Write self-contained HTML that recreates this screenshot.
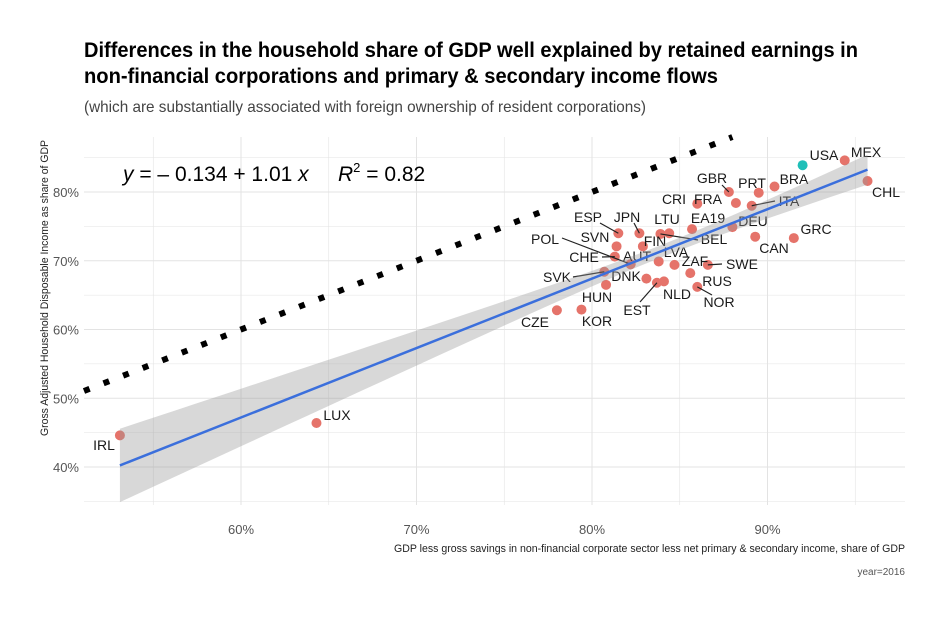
<!DOCTYPE html>
<html><head><meta charset="utf-8">
<style>
body{margin:0;background:#fff;width:946px;height:617px;overflow:hidden;}
svg{display:block;font-family:"Liberation Sans",sans-serif;}
</style></head><body>
<svg id="chart" width="946" height="617" viewBox="0 0 946 617">
<text x="84" y="57" font-size="21" font-weight="bold" fill="#000" textLength="774" lengthAdjust="spacingAndGlyphs">Differences in the household share of GDP well explained by retained earnings in</text>
<text x="84" y="83" font-size="21" font-weight="bold" fill="#000" textLength="634" lengthAdjust="spacingAndGlyphs">non-financial corporations and primary &amp; secondary income flows</text>
<text x="84" y="112" font-size="16" fill="#444" textLength="562" lengthAdjust="spacingAndGlyphs">(which are substantially associated with foreign ownership of resident corporations)</text>
<g id="grid"></g>
<g id="marks"></g>
<text x="123" y="181" font-size="21" fill="#000"><tspan font-style="italic">y</tspan> = – 0.134 + 1.01 <tspan font-style="italic">x</tspan><tspan x="338" font-style="italic">R</tspan><tspan font-size="13" dy="-9">2</tspan><tspan dy="9"> = 0.82</tspan></text>
<text transform="translate(48,288) rotate(-90)" text-anchor="middle" font-size="11" fill="#222" textLength="296" lengthAdjust="spacingAndGlyphs">Gross Adjusted Household Disposable Income as share of GDP</text>
<text x="905" y="552" text-anchor="end" font-size="11" fill="#222" textLength="511" lengthAdjust="spacingAndGlyphs">GDP less gross savings in non-financial corporate sector less net primary &amp; secondary income, share of GDP</text>
<text x="905" y="575" text-anchor="end" font-size="10" fill="#555">year=2016</text>
</svg>
<script>
const codes=["USA","MEX","CHL","BRA","PRT","GBR","FRA","ITA","CRI","EA19","DEU","CAN","GRC","LTU","ESP","JPN","SVN","FIN","BEL","POL","CHE","AUT","LVA","ZAF","SWE","SVK","DNK","RUS","NLD","NOR","HUN","EST","CZE","KOR","IRL","LUX"];
const xVals=[92.0,94.4,95.7,90.4,89.5,87.8,88.2,89.1,86.0,85.7,88.0,89.3,91.5,84.4,81.5,82.7,81.4,82.9,83.9,82.2,81.3,82.2,83.8,84.7,86.6,80.7,83.1,85.6,84.1,86.0,80.8,83.7,78.0,79.4,53.1,64.3];
const yVals=[83.9,84.6,81.6,80.8,79.9,80.0,78.4,78.0,78.3,74.6,74.9,73.5,73.3,74.0,74.0,74.0,72.1,72.1,73.9,69.5,70.6,69.5,69.9,69.4,69.4,68.4,67.4,68.2,67.0,66.2,66.5,66.8,62.8,62.9,44.6,46.4];
const xTicks=[60,70,80,90];
const xTickLabels=["60%","70%","80%","90%"];
const yTicks=[40,50,60,70,80];
const yTickLabels=["40%","50%","60%","70%","80%"];
const fitIntercept=-13.4, fitSlope=1.01;
// label placement (pixel layout, not data)
const labelPos={USA:[824,160],MEX:[866,157],CHL:[886,197],BRA:[794,184],PRT:[752,188],GBR:[712,183],FRA:[708,204],ITA:[789,206],CRI:[674,204],EA19:[708,223],DEU:[753,226],CAN:[774,253],GRC:[816,234],LTU:[667,224],ESP:[588,222],JPN:[627,222],SVN:[595,242],FIN:[655,246],BEL:[714,244],POL:[545,244],CHE:[584,262],AUT:[637,261],LVA:[676,257],ZAF:[695,266],SWE:[742,269],SVK:[557,282],DNK:[626,281],RUS:[717,286],NLD:[677,299],NOR:[719,307],HUN:[597,302],EST:[637,315],CZE:[535,327],KOR:[597,326],IRL:[104,450],LUX:[337,420]};
const leaders={GBR:[722,185],ESP:[600,223],JPN:[634,223],POL:[562,238],CHE:[602,257],SVK:[573,277],EST:[640,302],NOR:[712,295],SWE:[722,264],ITA:[775,201],BEL:[698,240]};

const PL=84,PR=905,PT=137,PB=505;
const sx=v=>241+(v-60)*17.55;
const sy=v=>192-(v-80)*6.875;
const X0=60+(PL-241)/17.55;
const NS="http://www.w3.org/2000/svg";
const gridG=document.getElementById('grid'), marksG=document.getElementById('marks');
function mk(tag,attrs,parent){const e=document.createElementNS(NS,tag);for(const k in attrs)e.setAttribute(k,attrs[k]);parent.appendChild(e);return e;}

for(let v=55;v<=95;v+=5){const l=mk('line',{x1:sx(v),x2:sx(v),y1:PT,y2:PB,stroke:'#e3e3e3','stroke-width':v%10===0?1:0.6},gridG);

}
for(let v=35;v<=85;v+=5){const l=mk('line',{x1:PL,x2:PR,y1:sy(v),y2:sy(v),stroke:'#e3e3e3','stroke-width':v%10===0?1:0.6},gridG);

}
xTicks.forEach((v,i)=>{const t=mk('text',{x:sx(v),y:534,'text-anchor':'middle','font-size':13,fill:'#555'},gridG);t.textContent=xTickLabels[i];

});
yTicks.forEach((v,i)=>{const t=mk('text',{x:79,y:sy(v)+5,'text-anchor':'end','font-size':13,fill:'#555'},gridG);t.textContent=yTickLabels[i];

});

// 45-degree reference line y=x
const refEnd=80+(192-PT)/6.875;
const ref=mk('line',{x1:sx(X0),y1:sy(X0),x2:sx(refEnd),y2:sy(refEnd),stroke:'#000','stroke-width':6,'stroke-dasharray':'6 15'},marksG);



codes.forEach((c,i)=>{const p=mk('circle',{cx:sx(xVals[i]),cy:sy(yVals[i]),r:5,fill:c==='USA'?'#1fbfb8':'#e5736a'},marksG);

});
codes.forEach((c,i)=>{const lp=labelPos[c];if(!lp)return;
if(leaders[c]){const l=mk('line',{x1:leaders[c][0],y1:leaders[c][1],x2:sx(xVals[i]),y2:sy(yVals[i]),stroke:'#222','stroke-width':1.2},marksG);

}
const t=mk('text',{x:lp[0],y:lp[1],'text-anchor':'middle','font-size':14,fill:'#1a1a1a'},marksG);t.textContent=c;

});

const xmin=Math.min(...xVals), xmax=Math.max(...xVals);
const xm=xVals.reduce((a,b)=>a+b,0)/xVals.length;
const bandTop=[],bandBot=[];
for(let k=0;k<=40;k++){const x=xmin+(xmax-xmin)*k/40;const yh=fitIntercept+fitSlope*x;const h=Math.sqrt(0.8+0.029*(x-xm)*(x-xm));
bandTop.push(sx(x)+','+sy(yh+h));bandBot.unshift(sx(x)+','+sy(yh-h));}
const band=mk('polygon',{points:bandTop.concat(bandBot).join(' '),fill:'#999',opacity:0.38},marksG);


const fit=mk('line',{x1:sx(xmin),y1:sy(fitIntercept+fitSlope*xmin),x2:sx(xmax),y2:sy(fitIntercept+fitSlope*xmax),stroke:'#3b6fdc','stroke-width':2.5},marksG);


</script>
</body></html>
